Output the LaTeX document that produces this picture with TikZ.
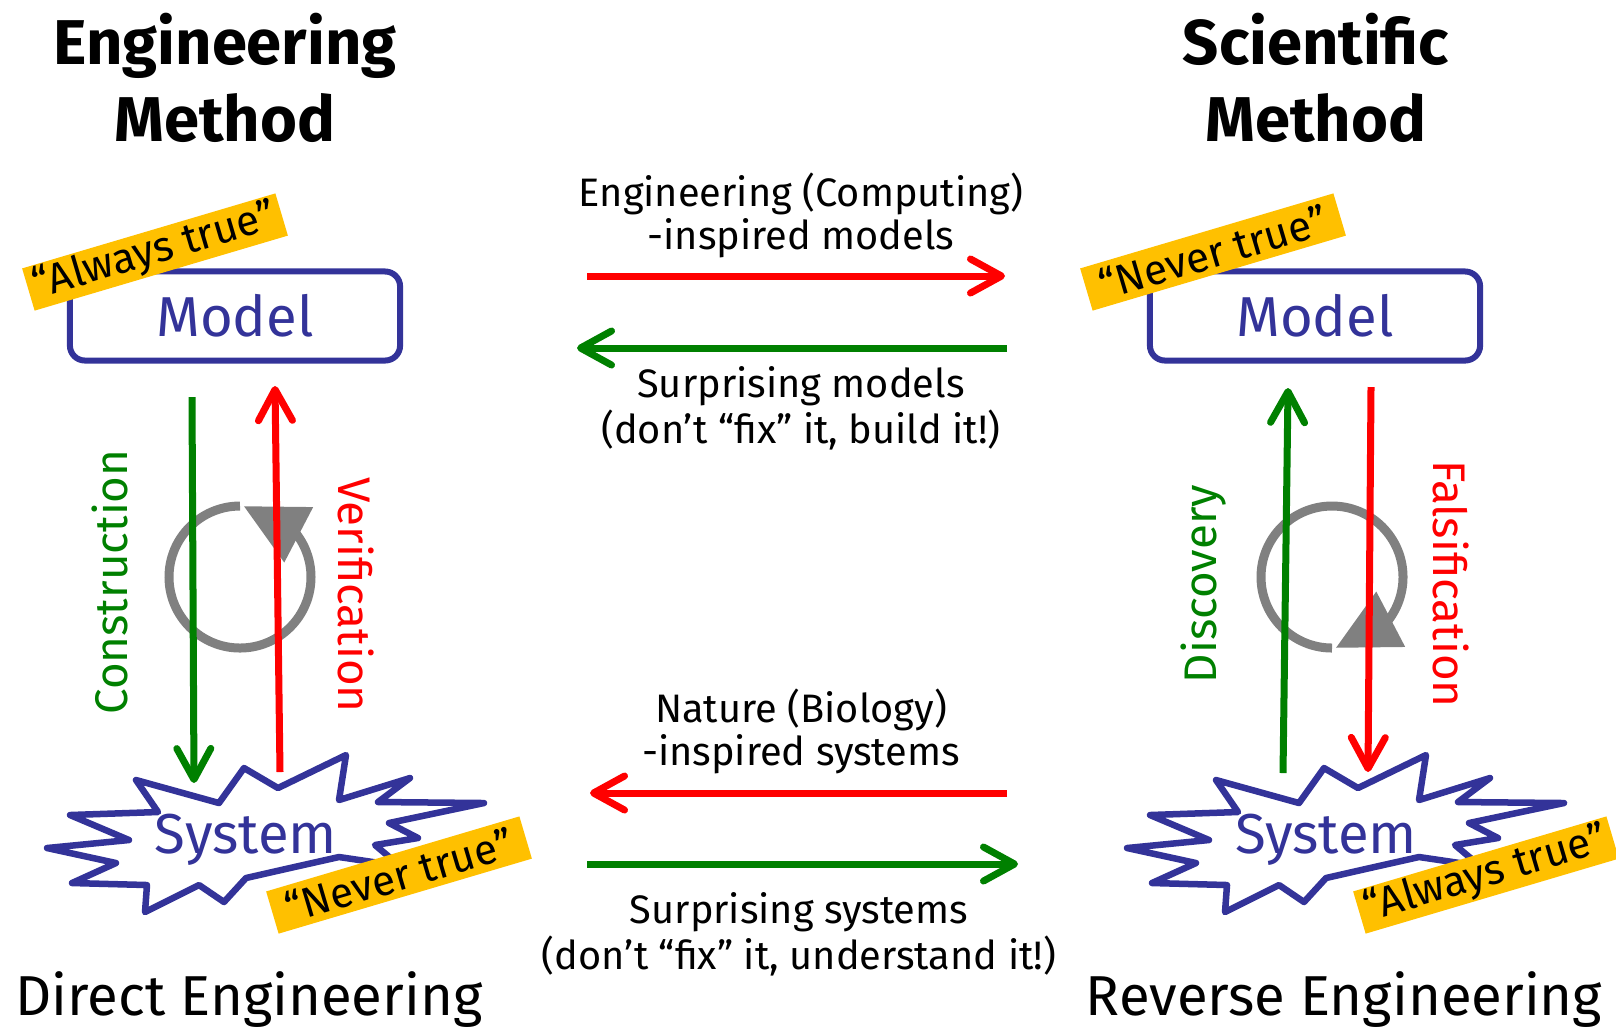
\documentclass[tikz,border=0pt]{standalone}
\usepackage{fontspec}
\setmainfont{Fira Sans}
\usetikzlibrary{arrows.meta,bending}
\definecolor{modelblue}{HTML}{333399}
\definecolor{taggold}{HTML}{FFC000}
\definecolor{arrred}{HTML}{FF0000}
\definecolor{arrgreen}{HTML}{008000}
\definecolor{loopgray}{HTML}{808080}
\newcommand{\systemstar}[1]{\draw[modelblue, line width=0.065cm, line join=round, fill=white, xshift=#1*0.01cm]
  (136,780) -- (219,803) -- (244,768) -- (278,788) -- (346,755) -- (339,800) -- (410,778) -- (378,802)
  -- (484,803) -- (389,823) -- (418,838) -- (375,845) -- (400,866) -- (339,857) -- (290,868) -- (246,878)
  -- (224,902) -- (199,885) -- (145,912) -- (147,885) -- (72,883) -- (116,863) -- (47,848) -- (129,840)
  -- (70,815) -- (158,812) -- cycle;}
\tikzset{
  modelbox/.style={draw=modelblue, line width=0.06cm, rounded corners=0.15cm, minimum width=3.3cm,
    minimum height=0.89cm, text=modelblue, font=\fontsize{16}{18}\selectfont},
  systext/.style={text=modelblue, font=\fontsize{16}{18}\selectfont},
  tag/.style={fill=taggold, rotate=16.5, minimum width=2.64cm, minimum height=0.44cm, inner sep=0pt,
    font=\fontsize{12}{14}\selectfont},
  barb/.style={line width=0.07cm, -{Straight Barb[length=0.31cm,width=0.34cm,round]}},
  loopline/.style={loopgray, line width=0.09cm, -{Triangle[length=0.62cm,width=0.6cm,flex]}},
  title/.style={align=center, font=\bfseries\fontsize{18}{22}\selectfont},
  midtext/.style={align=center, inner sep=0pt, font=\fontsize{11.3}{11.2}\selectfont},
  sidetext/.style={inner sep=0pt, font=\fontsize{13}{15}\selectfont},
  foot/.style={anchor=base, inner sep=0pt, font=\fontsize{16}{18}\selectfont}
}
\begin{document}
\begin{tikzpicture}[x=0.01cm, y=-0.01cm]
  \useasboundingbox (0,0) rectangle (1616,1026);
  % titles
  \node[title] (engtitle) at (225,78) {Engineering\\Method};
  \node[title] (scititle) at (1316,78) {Scientific\\Method};
  % models
  \node[modelbox] (modelL) at (235,316) {Model};
  \node[modelbox] (modelR) at (1315,316) {Model};
  % systems
  \systemstar{0}
  \systemstar{1080}
  \node[systext] (systemL) at (246,840) {System};
  \node[systext] (systemR) at (1326,840) {System};
  % loops
  \coordinate (loopL) at (240,577);
  \coordinate (loopR) at (1332,577);
  \draw[loopline] (loopL) ++(-90:71) arc[start angle=-90, end angle=-447, radius=71];
  \draw[loopline] (loopR) ++(90:71) arc[start angle=90, end angle=447, radius=71];
  % vertical arrows
  \coordinate (consA) at (192,397);
  \coordinate (consB) at (194,783);
  \coordinate (verA) at (280,772);
  \coordinate (verB) at (275,386);
  \coordinate (discA) at (1283,773);
  \coordinate (discB) at (1288,388);
  \coordinate (falsA) at (1371,387);
  \coordinate (falsB) at (1368,772);
  \draw[barb, arrgreen] (consA) -- (consB);
  \draw[barb, arrred] (verA) -- (verB);
  \draw[barb, arrgreen] (discA) -- (discB);
  \draw[barb, arrred] (falsA) -- (falsB);
  \node[sidetext, arrgreen, rotate=90] (construction) at (110,582) {Construction};
  \node[sidetext, arrred, rotate=-90] (verification) at (356,595) {Verification};
  \node[sidetext, arrgreen, rotate=90] (discovery) at (1204,584) {Discovery};
  \node[sidetext, arrred, rotate=-90] (falsification) at (1451,584) {Falsification};
  % middle arrows
  \coordinate (engA) at (587,276);
  \coordinate (engB) at (1005,276);
  \coordinate (surmA) at (1007,348);
  \coordinate (surmB) at (577,348);
  \coordinate (natA) at (1007,793);
  \coordinate (natB) at (590,793);
  \coordinate (sursA) at (587,864);
  \coordinate (sursB) at (1018,864);
  \draw[barb, arrred] (engA) -- (engB);
  \draw[barb, arrgreen] (surmA) -- (surmB);
  \draw[barb, arrred] (natA) -- (natB);
  \draw[barb, arrgreen] (sursA) -- (sursB);
  \node[midtext] (engtext) at (801,215) {Engineering (Computing)\\-inspired models};
  \node[midtext] (surmtext) at (801,408) {Surprising models\\(don’t “fix” it, build it!)};
  \node[midtext] (nattext) at (801,731) {Nature (Biology)\\-inspired systems};
  \node[midtext] (surstext) at (799,934) {Surprising systems\\(don’t “fix” it, understand it!)};
  % tags
  \node[tag] (tagTL) at (155,252) {“Always true”};
  \node[tag] (tagTR) at (1213,252) {“Never true”};
  \node[tag] (tagBL) at (399,875) {“Never true”};
  \node[tag] (tagBR) at (1486,875) {“Always true”};
  % footers
  \node[foot] (direct) at (249,1015) {Direct Engineering};
  \node[foot] (reverse) at (1344,1015) {Reverse Engineering};
\end{tikzpicture}
\end{document}
